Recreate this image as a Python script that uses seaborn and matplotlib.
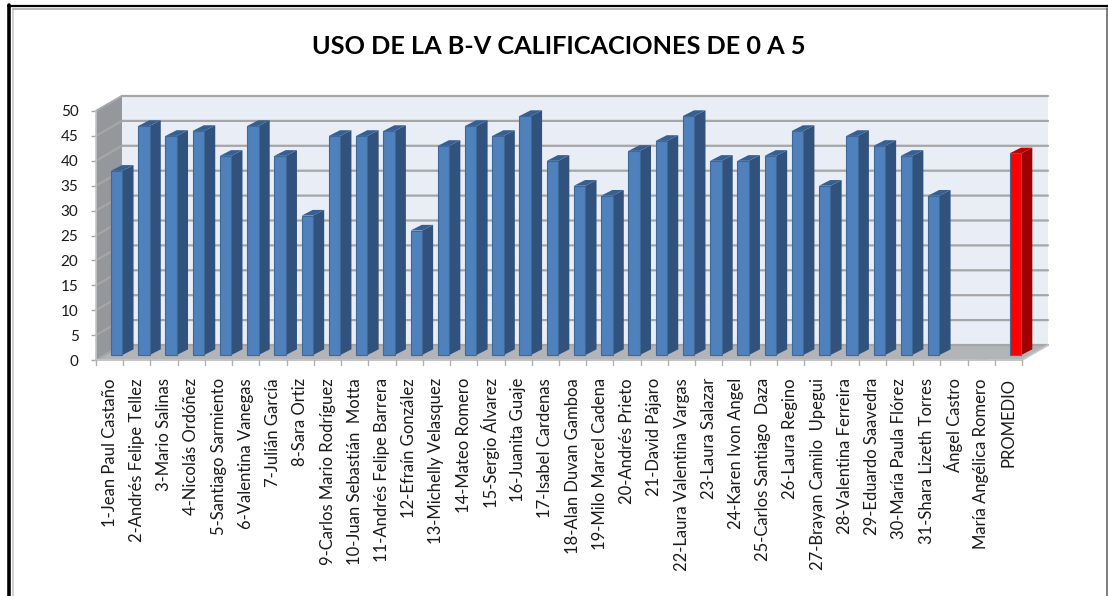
import matplotlib
matplotlib.use("Agg")
import matplotlib.pyplot as plt
from matplotlib.patches import Polygon
from matplotlib.lines import Line2D
import pandas as pd
import seaborn as sns

names = ["1-Jean Paul Castaño", "2-Andrés Felipe Tellez", "3-Mario Salinas", "4-Nicolás Ordóñez",
         "5-Santiago Sarmiento", "6-Valentina Vanegas", "7-Julián García", "8-Sara Ortiz",
         "9-Carlos Mario Rodríguez", "10-Juan Sebastián  Motta", "11-Andrés Felipe Barrera",
         "12-Efraín González", "13-Michelly Velasquez", "14-Mateo Romero", "15-Sergio Álvarez",
         "16-Juanita Guaje", "17-Isabel Cardenas", "18-Alan Duvan Gamboa", "19-Milo Marcel Cadena",
         "20-Andrés Prieto", "21-David Pájaro", "22-Laura Valentina Vargas", "23-Laura Salazar",
         "24-Karen Ivon Angel", "25-Carlos Santiago  Daza", "26-Laura Regino",
         "27-Brayan Camilo  Upegui", "28-Valentina Ferreira", "29-Eduardo Saavedra",
         "30-María Paula Flórez", "31-Shara Lizeth Torres", "Ángel Castro",
         "María Angélica Romero", "PROMEDIO"]
scores = [37, 46, 44, 45, 40, 46, 40, 28, 44, 44, 45, 25, 42, 46, 44, 48, 39, 34, 32,
          41, 43, 48, 39, 39, 40, 45, 34, 44, 42, 40, 32, 0, 0, 40.5]
yticks = [0, 5, 10, 15, 20, 25, 30, 35, 40, 45, 50]
title = "USO DE LA B-V CALIFICACIONES DE 0 A 5"

W, H = 1108, 596
sns.set_theme(style="white")
plt.rcParams["font.family"] = ["Lato", "DejaVu Sans"]

fig = plt.figure(figsize=(W / 100, H / 100), dpi=100, facecolor="white")
L, R, B, T = 96, 1022, 360, 111
ax = fig.add_axes([L / W, 1 - B / H, (R - L) / W, (B - T) / H])

df = pd.DataFrame({"name": names, "score": scores})
colors = ["#FF0000" if n == "PROMEDIO" else "#4F81BD" for n in names]
sns.barplot(data=df, x="name", y="score", hue="name", palette=colors, legend=False,
            width=0.42, saturation=1, ax=ax, zorder=5, edgecolor="#3F6797", linewidth=0.8)
ax.set_xlim(-0.5, len(names) - 0.5)
ax.set_ylim(0, 50)
ax.patch.set_alpha(0)

# 3-D depth, in data units
DX, DY = 26 / ((R - L) / len(names)), 15 / ((B - T) / 50)
fx, fy = 0.27 * DX, 0.33 * DY      # bar front plane
bx, by = 0.43 * DX, 0.38 * DY      # bar depth


def poly(pts, color, z, ec="none", lw=0):
    ax.add_patch(Polygon(pts, closed=True, facecolor=color, edgecolor=ec, linewidth=lw,
                         zorder=z, clip_on=False))


x0, x1 = -0.5, len(names) - 0.5
poly([(x0 + DX, DY), (x1 + DX, DY), (x1 + DX, 50 + DY), (x0 + DX, 50 + DY)], "#E9EDF6", 1)
poly([(x0, 0), (x0 + DX, DY), (x0 + DX, 50 + DY), (x0, 50)], "#94979B", 1)
poly([(x0, 0), (x1, 0), (x1 + DX, DY), (x0 + DX, DY)], "#B2B4B7", 1)
for v in yticks:
    ax.add_line(Line2D([x0, x0 + DX, x1 + DX], [v, v + DY, v + DY], color="#A6A6A6", lw=1.6,
                       zorder=2, clip_on=False))
ax.add_line(Line2D([x0, x1, x1 + DX], [0, 0, DY], color="#C4C4C4", lw=1.4, zorder=3, clip_on=False))
ax.add_line(Line2D([x0, x0], [0, 50], color="#C4C4C4", lw=1.2, zorder=3, clip_on=False))

# Front faces come from seaborn; side and top faces follow each bar's own geometry
faces = [p for p in ax.patches if p.get_zorder() == 5 and p.get_height() > 0]
for p, n in zip(sorted(faces, key=lambda q: q.get_x()), [n for n, s in zip(names, scores) if s > 0]):
    p.set_x(p.get_x() + fx)
    p.set_y(fy)
    p.set_clip_on(False)
    a, w, h = p.get_x(), p.get_width(), p.get_height()
    red = n == "PROMEDIO"
    side, top = ("#A00000", "#C00000") if red else ("#30527C", "#376092")
    poly([(a + w, fy), (a + w + bx, fy + by), (a + w + bx, fy + by + h), (a + w, fy + h)], side, 4)
    poly([(a, fy + h), (a + w, fy + h), (a + w + bx, fy + by + h), (a + bx, fy + by + h)], top, 4)

ax.set_yticks(yticks)
ax.set_xticks([i for i in range(len(names))])
ax.set_xticklabels(names, rotation=90, fontsize=12, color="#1a1a1a", ha="center", va="top")
ax.tick_params(axis="x", length=0, pad=13)
ax.tick_params(axis="y", length=3.6, width=1, color="#A6A6A6", labelsize=11, labelcolor="#1a1a1a", pad=9, left=True)
ax.set_xlabel("")
ax.set_ylabel("")
for s in ax.spines.values():
    s.set_visible(False)
for i in range(len(names) + 1):
    ax.add_line(Line2D([x0 + i, x0 + i], [0, -1], color="#B0B0B0", lw=1, clip_on=False, zorder=3))

fig.text(559 / W, 1 - 46 / H, title, ha="center", va="center", fontsize=18.2, fontweight="bold", color="black",
         family=["Lato", "DejaVu Sans"])

# Outer frame of the chart
fig.add_artist(Line2D([9.2 / W, 9.2 / W], [0, 1 - 5 / H], color="black", lw=2.6))
fig.add_artist(Line2D([13 / W, 13 / W], [0, 1 - 9 / H], color="#C8C8C8", lw=1.2))
fig.add_artist(Line2D([8 / W, 1], [1 - 6 / H, 1 - 6 / H], color="black", lw=1.6))
fig.add_artist(Line2D([13 / W, 1], [1 - 8.5 / H, 1 - 8.5 / H], color="#A8A8A8", lw=1.2))
fig.add_artist(Line2D([1107 / W, 1107 / W], [0, 1 - 8 / H], color="#666666", lw=1.2))

fig.savefig("out.png", dpi=100, facecolor="white")
